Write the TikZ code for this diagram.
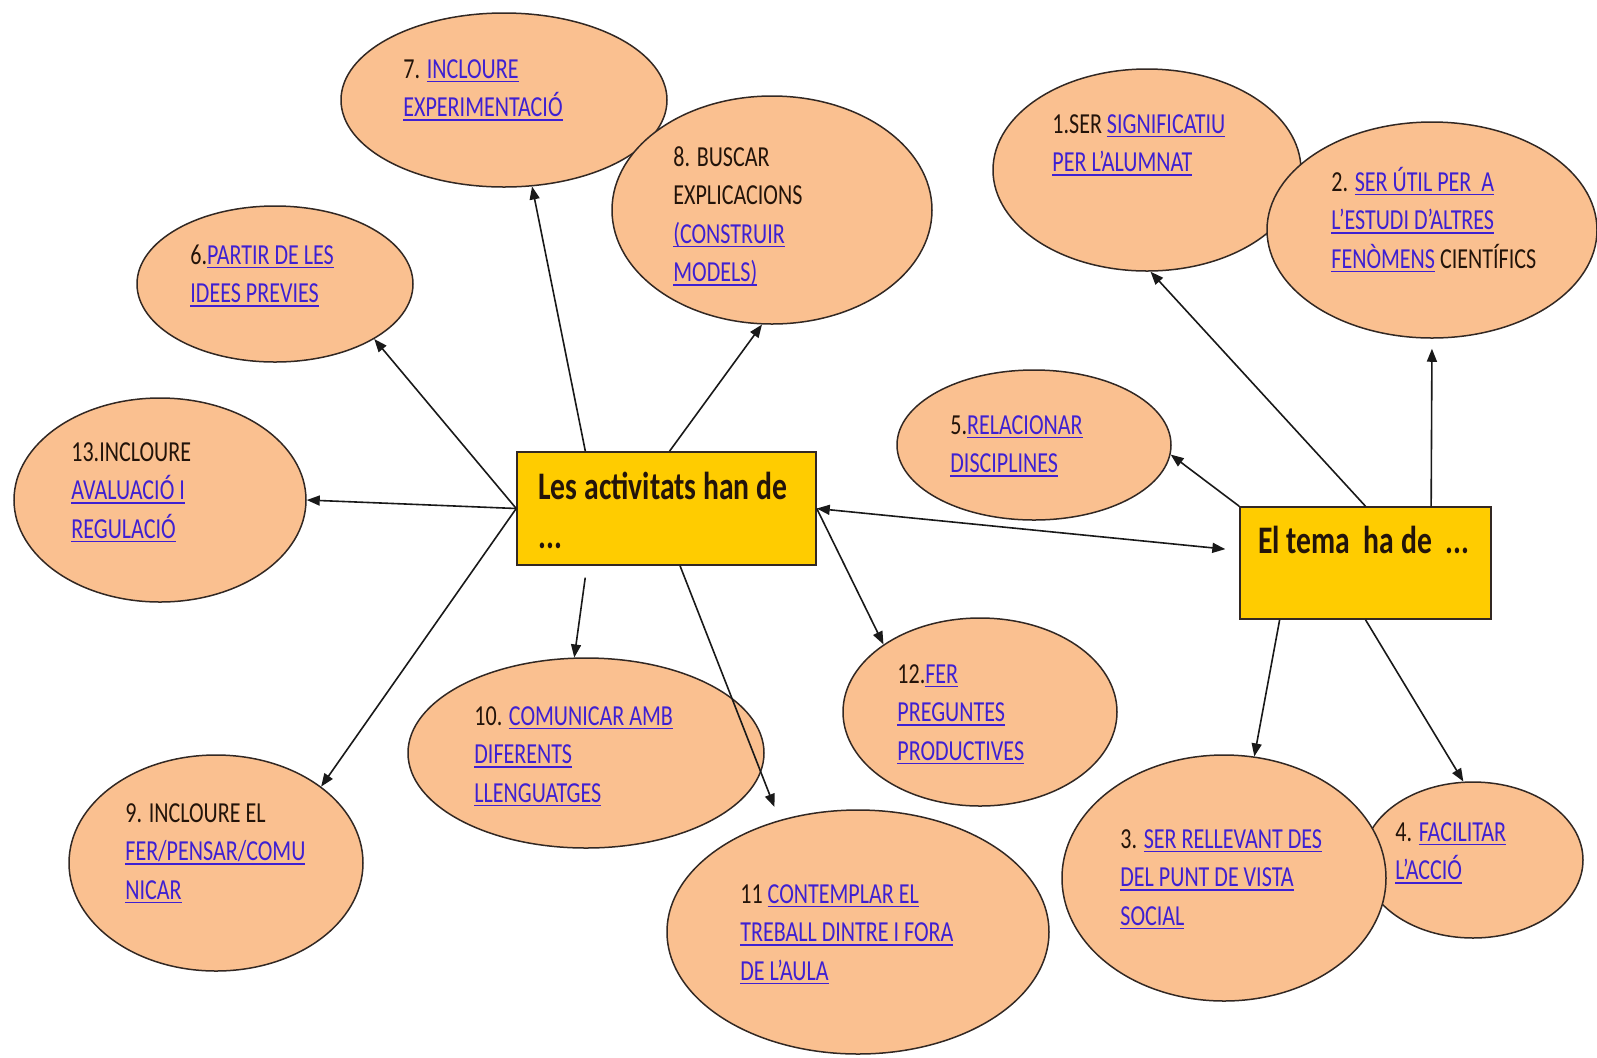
\documentclass[tikz,border=0pt]{standalone}
\usepackage{fontspec}
\setmainfont{Carlito}[FakeStretch=0.76]
\usepackage{xcolor}
\usetikzlibrary{shapes.geometric}
\usetikzlibrary{arrows.meta}
\usetikzlibrary{calc}
\definecolor{peach}{RGB}{250,192,144}
\definecolor{gold}{RGB}{255,204,0}
\definecolor{linkblue}{RGB}{62,32,210}
\definecolor{darktext}{RGB}{35,20,10}
\definecolor{edgegray}{RGB}{50,40,35}
\newsavebox\lnkbox
\newcommand\lnk[1]{\sbox\lnkbox{\color{linkblue}#1}{\color{linkblue}\rlap{\usebox\lnkbox}\rule[-2.2pt]{\wd\lnkbox}{0.9pt}}}
\newcommand\txtlines[1]{\begin{tabular}[t]{@{}l@{}}#1\end{tabular}}

\begin{document}
\begin{tikzpicture}[x=0.5pt, y=-0.5pt,
        >={Triangle[length=6.5pt,width=5pt]},
        bubble/.style={ellipse, draw=edgegray, fill=peach, line width=0.75pt, inner sep=0pt},
        topic/.style={rectangle, draw=edgegray, fill=gold, line width=0.75pt, inner sep=0pt},
        txt/.style={anchor=base west, inner sep=0pt, text=darktext, font=\fontsize{14.5}{19.25}\selectfont},
        conn/.style={->, draw=black!90, line width=0.8pt}
    ]
        \useasboundingbox (0,0) rectangle (1597,1057);
        % bubbles
        \node[bubble, minimum width=163pt, minimum height=87pt] (e7) at (504,100) {};
        \node[bubble, minimum width=160pt, minimum height=114pt] (e8) at (772,210) {};
        \node[bubble, minimum width=138pt, minimum height=78pt] (e6) at (275,284) {};
        \node[bubble, minimum width=146pt, minimum height=102pt] (e13) at (160,500) {};
        \node[bubble, minimum width=147pt, minimum height=108pt] (e9) at (216,863) {};
        \node[bubble, minimum width=178pt, minimum height=95pt] (e10) at (586,753) {};
        \node[bubble, minimum width=191pt, minimum height=122pt] (e11) at (858,932) {};
        \node[bubble, minimum width=137pt, minimum height=94pt] (e12) at (980,712) {};
        \node[bubble, minimum width=137pt, minimum height=75pt] (e5) at (1034,445) {};
        \node[bubble, minimum width=154pt, minimum height=101pt] (e1) at (1147,170) {};
        \node[bubble, minimum width=165pt, minimum height=108pt] (e2) at (1432,230) {};
        \node[bubble, minimum width=110pt, minimum height=78pt] (e4) at (1473,860) {};
        \node[bubble, minimum width=162pt, minimum height=123pt] (e3) at (1224,878) {};
        % the two boxes
        \node[topic, minimum width=149.5pt, minimum height=56.5pt] (a) at (666.5,508.5) {};
        \node[topic, minimum width=125.5pt, minimum height=56pt] (b) at (1365.5,563) {};
        % connectors
        \draw[conn] ($(a.north west)!0.23!(a.north east)$) -- (e7.288);
        \draw[conn] ($(a.north west)!0.51!(a.north east)$) -- (e8.265);
        \draw[conn] (a.west) -- (e6.331);
        \draw[conn] (a.west) -- (e13.east);
        \draw[conn] (a.west) -- (e9.36);
        \draw[conn, shorten <=6pt] ($(a.south west)!0.235!(a.south east)$) -- (e10.97);
        \draw[conn, shorten >=7pt] ($(a.south west)!0.545!(a.south east)$) -- (e11.125);
        \draw[conn] (a.east) -- (e12.145);
        \draw[conn, <->, shorten >=7pt] (a.east) -- ($(b.north west)!0.39!(b.south west)$);
        \draw[conn] (b.north west) -- (e5.356);
        \draw[conn] (b.north) -- (e1.272);
        \draw[conn, shorten >=5pt] ($(b.north west)!0.76!(b.north east)$) -- (e2.south);
        \draw[conn] ($(b.south west)!0.16!(b.south east)$) -- (e3.76);
        \draw[conn] (b.south) -- (e4.97);
        % texts
        \node[txt, font=\bfseries\fontsize{19.5}{24.5}\selectfont] (ta) at (538,499) {\txtlines{Les activitats han de\\ ...}};
        \node[txt, font=\bfseries\fontsize{19.5}{24.5}\selectfont] (tb) at (1258,553) {El tema~~ha de~~...};
        \node[txt] (t7) at (403,78) {\txtlines{7. \lnk{INCLOURE}\\ \lnk{EXPERIMENTACIÓ}}};
        \node[txt] (t8) at (673,166) {\txtlines{8. BUSCAR\\ EXPLICACIONS\\ \lnk{(CONSTRUIR}\\ \lnk{MODELS)}}};
        \node[txt] (t6) at (190,264) {\txtlines{6.\lnk{PARTIR DE LES}\\ \lnk{IDEES PREVIES}}};
        \node[txt] (t13) at (71,461) {\txtlines{13.INCLOURE\\ \lnk{AVALUACIÓ I}\\ \lnk{REGULACIÓ}}};
        \node[txt] (t9) at (125,822) {\txtlines{9. INCLOURE EL\\ \lnk{FER/PENSAR/COMU}\\ \lnk{NICAR}}};
        \node[txt] (t10) at (474,725) {\txtlines{10. \lnk{COMUNICAR AMB}\\ \lnk{DIFERENTS}\\ \lnk{LLENGUATGES}}};
        \node[txt] (t11) at (740,903) {\txtlines{11 \lnk{CONTEMPLAR EL}\\ \lnk{TREBALL DINTRE I FORA}\\ \lnk{DE L’AULA}}};
        \node[txt] (t12) at (897,683) {\txtlines{12.\lnk{FER}\\ \lnk{PREGUNTES}\\ \lnk{PRODUCTIVES}}};
        \node[txt] (t5) at (950,434) {\txtlines{5.\lnk{RELACIONAR}\\ \lnk{DISCIPLINES}}};
        \node[txt] (t1) at (1052,133) {\txtlines{1.SER \lnk{SIGNIFICATIU}\\ \lnk{PER L’ALUMNAT}}};
        \node[txt] (t2) at (1331,191) {\txtlines{2. \lnk{SER ÚTIL PER~~A}\\ \lnk{L’ESTUDI D’ALTRES}\\ \lnk{FENÒMENS} CIENTÍFICS}};
        \node[txt] (t3) at (1120,848) {\txtlines{3. \lnk{SER RELLEVANT DES}\\ \lnk{DEL PUNT DE VISTA}\\ \lnk{SOCIAL}}};
        \node[txt] (t4) at (1395,841) {\txtlines{4. \lnk{FACILITAR}\\ \lnk{L’ACCIÓ}}};
    \end{tikzpicture}
\end{document}
